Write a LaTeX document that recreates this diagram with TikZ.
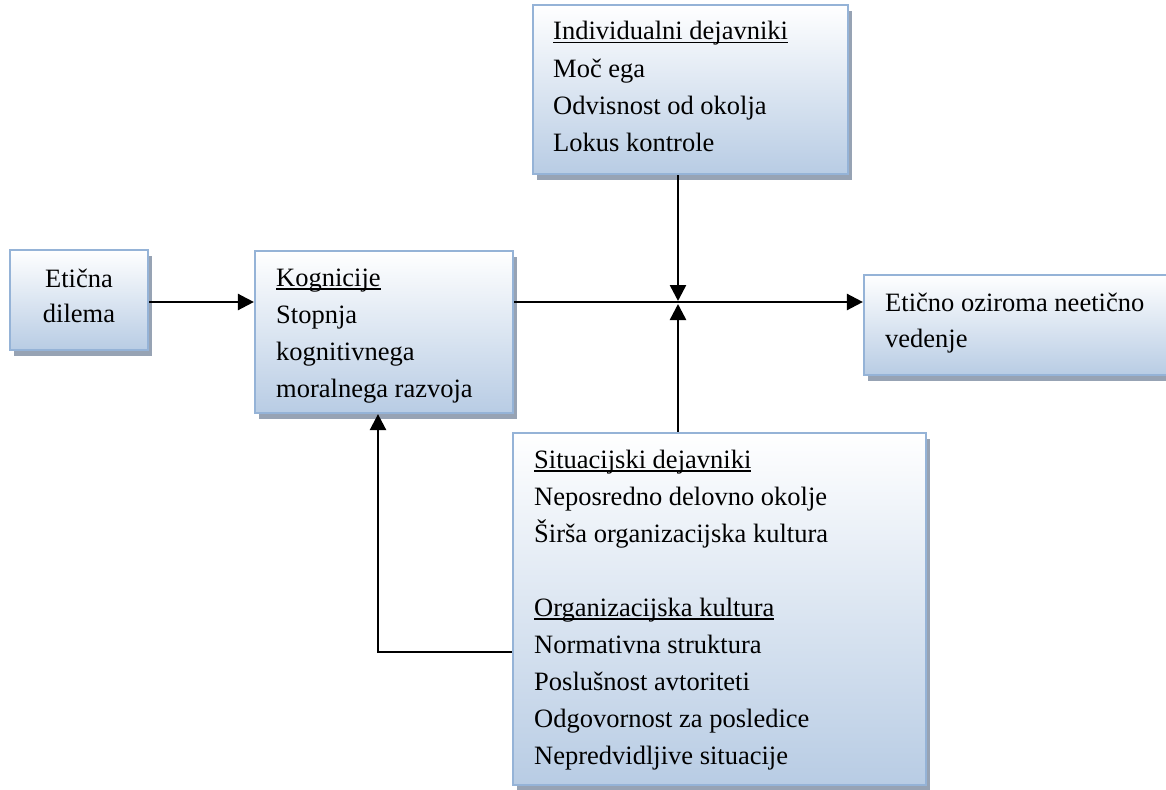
\documentclass[tikz,border=0pt]{standalone}
\usepackage{fontspec}
\setmainfont{Liberation Serif}
\usetikzlibrary{arrows.meta,shadows}

\definecolor{boxline}{HTML}{95B3D7}
\definecolor{boxfill}{HTML}{B8CCE4}
\definecolor{shadowc}{HTML}{97A3B4}

% fixed-offset underline, independent of descenders
\newcommand\undl[1]{\leavevmode\setbox0\hbox{#1}\rlap{\rule[-3.5pt]{\wd0}{1.4pt}}\box0}
% multi-line text block whose baseline is its first line
\newcommand\lines[3]{\parbox[t]{#1}{\fontsize{26.5pt}{#2}\selectfont #3}}

\begin{document}
\begin{tikzpicture}[x=1pt,y=-1pt,
  box/.style={draw=boxline, line width=2.2pt, top color=white, bottom color=boxfill,
    inner sep=0pt,
    drop shadow={shadow xshift=4pt, shadow yshift=-6pt, fill=shadowc, opacity=1}},
  txt/.style={inner sep=0pt, anchor=base west},
  arr/.style={line width=2.5pt, -{Triangle[length=16pt,width=16pt]}}]
\useasboundingbox (0,0) rectangle (1166,789);

% boxes
\node[box, minimum width=138pt, minimum height=100pt] (dilema) at (79,300) {};
\node[box, minimum width=258pt, minimum height=162pt] (kog) at (384,332) {};
\node[box, minimum width=315pt, minimum height=169pt] (ind) at (690.5,89.5) {};
\node[box, minimum width=413pt, minimum height=352pt] (sit) at (719.5,609) {};
\node[box, minimum width=304pt, minimum height=100pt] (res) at (1016,325) {};

% texts
\node[inner sep=0pt, anchor=base] (dilematxt) at (79,287)
  {\lines{130pt}{35pt}{\centering Etična\\dilema}};
\node[txt] (kogtxt) at (276,286)
  {\lines{230pt}{37pt}{\undl{Kognicije}\\Stopnja\\kognitivnega\\moralnega razvoja}};
\node[txt] (indtxt) at (553,40)
  {\lines{290pt}{37.3pt}{\undl{Individualni dejavniki}\\Moč ega\\Odvisnost od okolja\\Lokus kontrole}};
\node[txt] (sittxt) at (534,468)
  {\lines{380pt}{37pt}{\undl{Situacijski dejavniki}\\Neposredno delovno okolje\\Širša organizacijska kultura\\[37pt]\undl{Organizacijska kultura}\\Normativna struktura\\Poslušnost avtoriteti\\Odgovornost za posledice\\Nepredvidljive situacije}};
\node[txt] (restxt) at (885,311)
  {\lines{280pt}{36pt}{Etično oziroma neetično\\vedenje}};

% connectors
\coordinate (J) at (678,302);
\coordinate (F) at (378,652);
\draw[arr] ([yshift=-2pt]dilema.east) -- ([yshift=-2pt]dilema.east -| kog.west);
\draw[arr] (kog.east |- J) -- (J -| res.west);
\draw[arr] (ind.south -| J) -- ([yshift=1pt]J);
\draw[arr] (sit.north -| J) -- ([yshift=-2pt]J);
\draw[arr] (sit.west |- F) -- (F) -- (F |- kog.south);
\end{tikzpicture}
\end{document}
